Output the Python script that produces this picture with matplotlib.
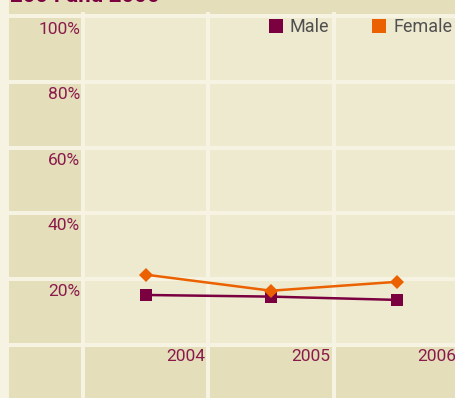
import matplotlib
matplotlib.use('Agg')
import matplotlib.pyplot as plt
from matplotlib.lines import Line2D

years = [2004, 2005, 2006]
male = [15.1, 14.6, 13.6]
female = [21.3, 16.4, 19.1]
yticks = [20, 40, 60, 80, 100]
ytick_labels = ['20%', '40%', '60%', '80%', '100%']
title = '2004 and 2006'

bg = '#f6f3e2'
cell = '#eeeacf'
cell_dark = '#e4dfba'
maroon = '#7a0040'
orange = '#eb6100'
label_col = '#8a1a4c'

plt.rcParams['font.family'] = ['Roboto', 'DejaVu Sans']

fig = plt.figure(figsize=(4.56, 3.98), dpi=100, facecolor=bg)
ax = fig.add_axes([0, 0, 1, 1])
ax.set_facecolor(cell)
x0, x1 = 2002.8406, 2006.474
y0, y1 = -16.31, 105.03
ax.set_xlim(x0, x1)
ax.set_ylim(y0, y1)
ax.set_xticks([])
ax.set_yticks([])
for s in ax.spines.values():
    s.set_visible(False)

# label column, label row and title strip
title_y = 100.76
ax.axvspan(2002.912, 2003.5, color=cell_dark, lw=0, zorder=0)
ax.axhspan(y0, 0, color=cell_dark, lw=0, zorder=0)
ax.axhspan(title_y, y1, color=cell_dark, lw=0, zorder=0)
ax.axvspan(x0, 2002.912, color=bg, lw=0, zorder=0.5)

# cell gaps
top = (title_y - y0) / (y1 - y0)
for v in [0] + yticks:
    ax.axhline(v, color=bg, lw=2.9, zorder=1)
for xv in [2003.5, 2004.5, 2005.5]:
    ax.axvline(xv, ymax=top, color=bg, lw=2.9, zorder=1)

ax.text(2002.92, 104.45, title, color=maroon, fontsize=16, fontweight='bold',
        ha='left', va='baseline', zorder=3)

for v, lab in zip(yticks, ytick_labels):
    ax.text(2003.478, v - 5.2, lab, color=label_col, fontsize=12.5,
            ha='right', va='baseline', zorder=3)
for yr in years:
    ax.text(yr + 0.474, -5.0, str(yr), color=label_col, fontsize=12.5,
            ha='right', va='baseline', zorder=3)

ax.plot(years, male, color=maroon, lw=1.8, marker='s', ms=8.6, mew=0, zorder=4)
ax.plot(years, female, color=orange, lw=1.8, marker='D', ms=7.2, mew=0, zorder=5)

handles = [Line2D([], [], ls='none', marker='s', ms=9.4, mew=0, color=maroon),
           Line2D([], [], ls='none', marker='s', ms=9.4, mew=0, color=orange)]
ax.legend(handles, ['Male', 'Female'], ncol=2, frameon=False, loc='center left',
          bbox_to_anchor=(269 / 456, 1 - 27 / 398), borderpad=0, borderaxespad=0,
          handlelength=0.75, handletextpad=0.4, columnspacing=2.4,
          prop={'size': 13}, labelcolor='#505050')

fig.savefig('out.png', dpi=100, facecolor=bg)
